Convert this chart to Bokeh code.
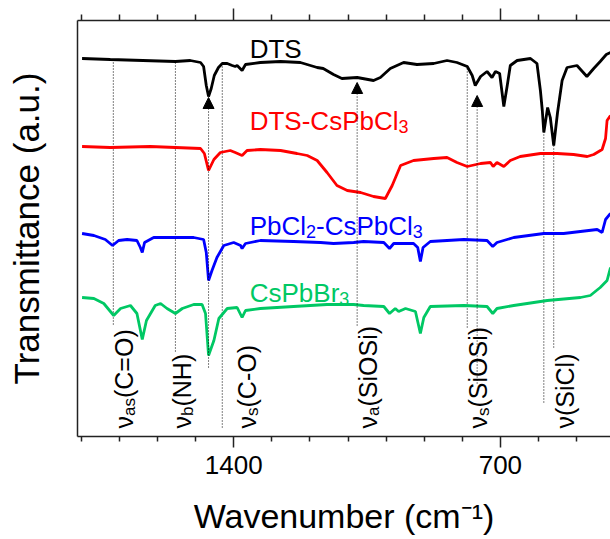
import math
from bokeh.plotting import figure
from bokeh.models import (Range1d, FixedTicker, LinearAxis, Arrow, NormalHead, ColumnDataSource,
                          CustomJSTickFormatter)
from bokeh.embed import file_html
from bokeh.resources import INLINE
from bokeh.core.properties import value

FONT = "Liberation Sans"

# ---------------- data (wavenumber, offset transmittance in a.u.) ----------------
wn_dts = [1798, 1724, 1553, 1514, 1487, 1479, 1472, 1466, 1459, 1451, 1440, 1430, 1417, 1404,
          1396, 1391, 1378, 1369, 1330, 1277, 1225, 1181, 1165, 1138, 1116, 1076, 1033, 1015,
          989, 954, 919, 875, 840, 814, 787, 774, 766, 752, 735, 722, 713, 702, 691, 682, 674,
          656, 621, 604, 595, 590, 586, 576, 569, 560, 550, 538, 525, 499, 473, 455, 438, 422, 411]
t_dts = [378, 377, 375, 376, 374, 370, 351, 340, 348, 361, 369, 373, 373, 371,
         370, 371, 366, 372, 374, 375, 374, 369, 368, 362, 358, 359, 356, 359,
         368, 374, 372, 373, 376, 374, 370, 361, 351, 360, 365, 359, 365, 363, 330, 351, 371,
         376, 378, 373, 346, 326, 304, 329, 319, 291, 324, 356, 369, 371, 360, 368, 375, 382, 384]

wn_dts_cs = [1798, 1724, 1619, 1553, 1487, 1477, 1466, 1452, 1435, 1409, 1396, 1378, 1365, 1330,
             1277, 1234, 1207, 1181, 1155, 1129, 1102, 1067, 1033, 1002, 984, 962, 928, 875, 840,
             814, 787, 752, 726, 719, 709, 691, 674, 648, 595, 551, 508, 472, 455, 433, 424, 420, 411]
t_dts_cs = [290, 289, 290, 289, 288, 283, 266, 277, 284, 286, 284, 281, 286, 287,
            286, 283, 281, 276, 264, 251, 246, 244, 240, 238, 251, 271, 276, 278, 279,
            274, 270, 273, 274, 270, 274, 270, 276, 280, 283, 283, 282, 280, 282, 287, 298, 316, 321]

wn_pbcl = [1798, 1767, 1737, 1718, 1702, 1680, 1654, 1645, 1640, 1634, 1610, 1558, 1505, 1479,
           1472, 1466, 1457, 1444, 1426, 1400, 1382, 1378, 1369, 1330, 1243, 1172, 1138, 1085,
           1059, 1006, 991, 980, 928, 917, 910, 903, 884, 796, 735, 720, 709, 665, 586, 534,
           446, 433, 424, 411]
t_pbcl = [203, 201, 197, 191, 196, 197, 196, 189, 184, 194, 199, 199, 199, 197,
          184, 156, 166, 179, 191, 194, 191, 188, 193, 196, 195, 194, 193, 194,
          195, 194, 188, 193, 193, 189, 175, 189, 195, 197, 196, 190, 194, 199, 203, 203,
          207, 204, 217, 223]

wn_br = [1798, 1767, 1741, 1715, 1697, 1671, 1654, 1640, 1629, 1606, 1592, 1575, 1553, 1535,
         1505, 1483, 1474, 1466, 1452, 1439, 1417, 1391, 1378, 1369, 1330, 1243, 1155, 1085,
         1059, 1006, 991, 976, 967, 949, 923, 910, 901, 884, 796, 735, 720, 709, 665, 577,
         490, 464, 438, 420, 411]
t_br = [139, 138, 133, 121, 128, 131, 123, 97, 116, 131, 133, 128, 123, 128,
        132, 132, 123, 81, 96, 118, 128, 129, 119, 126, 128, 130, 132, 132,
        131, 130, 123, 128, 125, 128, 125, 103, 119, 130, 131, 130, 123, 128, 131, 136,
        139, 141, 149, 156, 169]

x_major_ticks = [1400, 700]
x_minor_ticks = [1800, 1700, 1600, 1500, 1300, 1200, 1100, 1000, 900, 800, 600, 500]

# dotted assignment guides
guide_wn = [1716, 1553, 1430, 787, 586, 560]
guide_top = [374, 374, 373, 371, 305, 291]
guide_bottom = [111, 83, 8, 109, 34, 88]
# dotted arrows pointing at peaks
arrow_wn = [1466, 1076, 761]
arrow_tip = [339, 354, 341]
arrow_bottom = [69, 111, 53]

# series labels: parts (text, is_subscript)
series_parts = [[("DTS", 0)],
                [("DTS-CsPbCl", 0), ("3", 1)],
                [("PbCl", 0), ("2", 1), ("-CsPbCl", 0), ("3", 1)],
                [("CsPbBr", 0), ("3", 1)]]
series_colors = ["black", "#ff0000", "#0000ff", "#00c864"]
series_label_wn = 1358
series_label_base = [388, 316, 211, 144]

# vibrational assignment labels (rotated)
assign_parts = [[("ν", 0), ("as", 1), ("(C=O)", 0)],
                [("ν", 0), ("b", 1), ("(NH)", 0)],
                [("ν", 0), ("s", 1), ("(C-O)", 0)],
                [("ν", 0), ("a", 1), ("(SiOSi)", 0)],
                [("ν", 0), ("s", 1), ("(SiOSi)", 0)],
                [("ν", 0), ("(SiCl)", 0)]]
assign_wn = [1689, 1536, 1366, 1048, 759, 530]
assign_start = 8

# ---------------- helpers (Arial advance widths per 1000 em) ----------------
AW = {'D': 722, 'T': 611, 'S': 667, '-': 333, 'C': 722, 's': 500, 'P': 667, 'b': 556, 'l': 222,
      'B': 667, 'r': 333, '2': 556, '3': 556, 'a': 556, '(': 333, ')': 333, '=': 584, 'O': 778,
      'N': 722, 'H': 722, 'i': 222, 'ν': 500, ' ': 278}


def tw(s, size):
    return sum(AW.get(c, 556) for c in s) * size / 1000.0


MAIN = 26
SUB = 18
RMAIN = 25
RSUB = 17

p = figure(frame_width=533, frame_height=416,
           x_range=Range1d(1810, 411), y_range=Range1d(0, 416),
           output_backend="svg", toolbar_location=None,
           min_border_left=77, min_border_right=0, min_border_top=20, min_border_bottom=102)
p.grid.visible = False
p.outline_line_color = None
p.background_fill_color = "white"
p.border_fill_color = "white"

AX_COLOR = "#222222"

xa = p.xaxis[0]
xa.ticker = FixedTicker(ticks=x_major_ticks, minor_ticks=x_minor_ticks)
xa.major_tick_out = 11
xa.major_tick_in = 0
xa.minor_tick_out = 5
xa.minor_tick_in = 0
xa.axis_line_width = 1.5
xa.axis_line_color = AX_COLOR
xa.major_tick_line_color = AX_COLOR
xa.minor_tick_line_color = AX_COLOR
xa.major_tick_line_width = 1.5
xa.minor_tick_line_width = 1.5
xa.major_label_text_font = FONT
xa.major_label_text_font_size = "26px"
xa.major_label_text_color = "black"
xa.major_label_standoff = 8
xa.axis_label = "Wavenumber (cm⁻¹)"
xa.axis_label_text_font = FONT
xa.axis_label_text_font_size = "34px"
xa.axis_label_text_font_style = "normal"
xa.axis_label_text_color = "black"
xa.axis_label_standoff = 20

ta = LinearAxis(ticker=FixedTicker(ticks=x_major_ticks, minor_ticks=x_minor_ticks),
                formatter=CustomJSTickFormatter(code="return ''"),
                major_tick_out=12, major_tick_in=0, minor_tick_out=6, minor_tick_in=0,
                major_label_standoff=0,
                axis_line_width=1.5, axis_line_color=AX_COLOR,
                major_tick_line_color=AX_COLOR, minor_tick_line_color=AX_COLOR,
                major_tick_line_width=1.5, minor_tick_line_width=1.5)
p.add_layout(ta, "above")

ya = p.yaxis[0]
ya.ticker = FixedTicker(ticks=[])
ya.major_tick_out = 0
ya.major_tick_in = 0
ya.minor_tick_out = 0
ya.minor_tick_in = 0
ya.major_label_standoff = 0
ya.axis_line_width = 1.5
ya.axis_line_color = AX_COLOR
ya.axis_label = "Transmittance (a.u.)"
ya.axis_label_text_font = FONT
ya.axis_label_text_font_size = "35px"
ya.axis_label_text_font_style = "normal"
ya.axis_label_text_color = "black"
ya.axis_label_standoff = 32

# guides
p.segment(x0=guide_wn, y0=guide_top, x1=guide_wn, y1=guide_bottom,
          line_color="black", line_width=1, line_dash="1 2")
arrow_src = ColumnDataSource(dict(x=arrow_wn, y0=arrow_bottom, y1=arrow_tip))
p.add_layout(Arrow(source=arrow_src, x_start="x", y_start="y0", x_end="x", y_end="y1",
                   line_color="black", line_width=1, line_dash="1 2",
                   end=NormalHead(size=11, fill_color="black", line_color="black", line_width=1)))

# spectra
LW = 2.8
p.line(wn_dts, t_dts, line_color=series_colors[0], line_width=LW)
p.line(wn_dts_cs, t_dts_cs, line_color=series_colors[1], line_width=LW)
p.line(wn_pbcl, t_pbcl, line_color=series_colors[2], line_width=LW)
p.line(wn_br, t_br, line_color=series_colors[3], line_width=LW)

# series labels
for parts, col, base in zip(series_parts, series_colors, series_label_base):
    off = 0.0
    xs, ys, txt, xo, sz = [], [], [], [], []
    for s, sub in parts:
        size = SUB if sub else MAIN
        xs.append(series_label_wn)
        ys.append(base - 6 if sub else base)
        txt.append(s)
        xo.append(off)
        sz.append(f"{size}px")
        off += tw(s, size)
    src = ColumnDataSource(dict(x=xs, y=ys, t=txt, xo=xo, sz=sz))
    p.text(x="x", y="y", text="t", x_offset="xo", text_font_size="sz", source=src,
           text_font=value(FONT), text_color=col, text_align="left",
           text_baseline="alphabetic")

# rotated assignment labels
for parts, w in zip(assign_parts, assign_wn):
    pos = assign_start
    xs, ys, txt, xo, sz = [], [], [], [], []
    for s, sub in parts:
        size = RSUB if sub else RMAIN
        xs.append(w)
        ys.append(pos)
        txt.append(s)
        xo.append(6 if sub else 0)
        sz.append(f"{size}px")
        pos += tw(s, size)
    src = ColumnDataSource(dict(x=xs, y=ys, t=txt, xo=xo, sz=sz))
    p.text(x="x", y="y", text="t", x_offset="xo", text_font_size="sz", source=src,
           angle=math.pi / 2, text_font=value(FONT), text_color="black",
           text_align="left", text_baseline="alphabetic")

open("out.html", "w").write(file_html(p, INLINE))
